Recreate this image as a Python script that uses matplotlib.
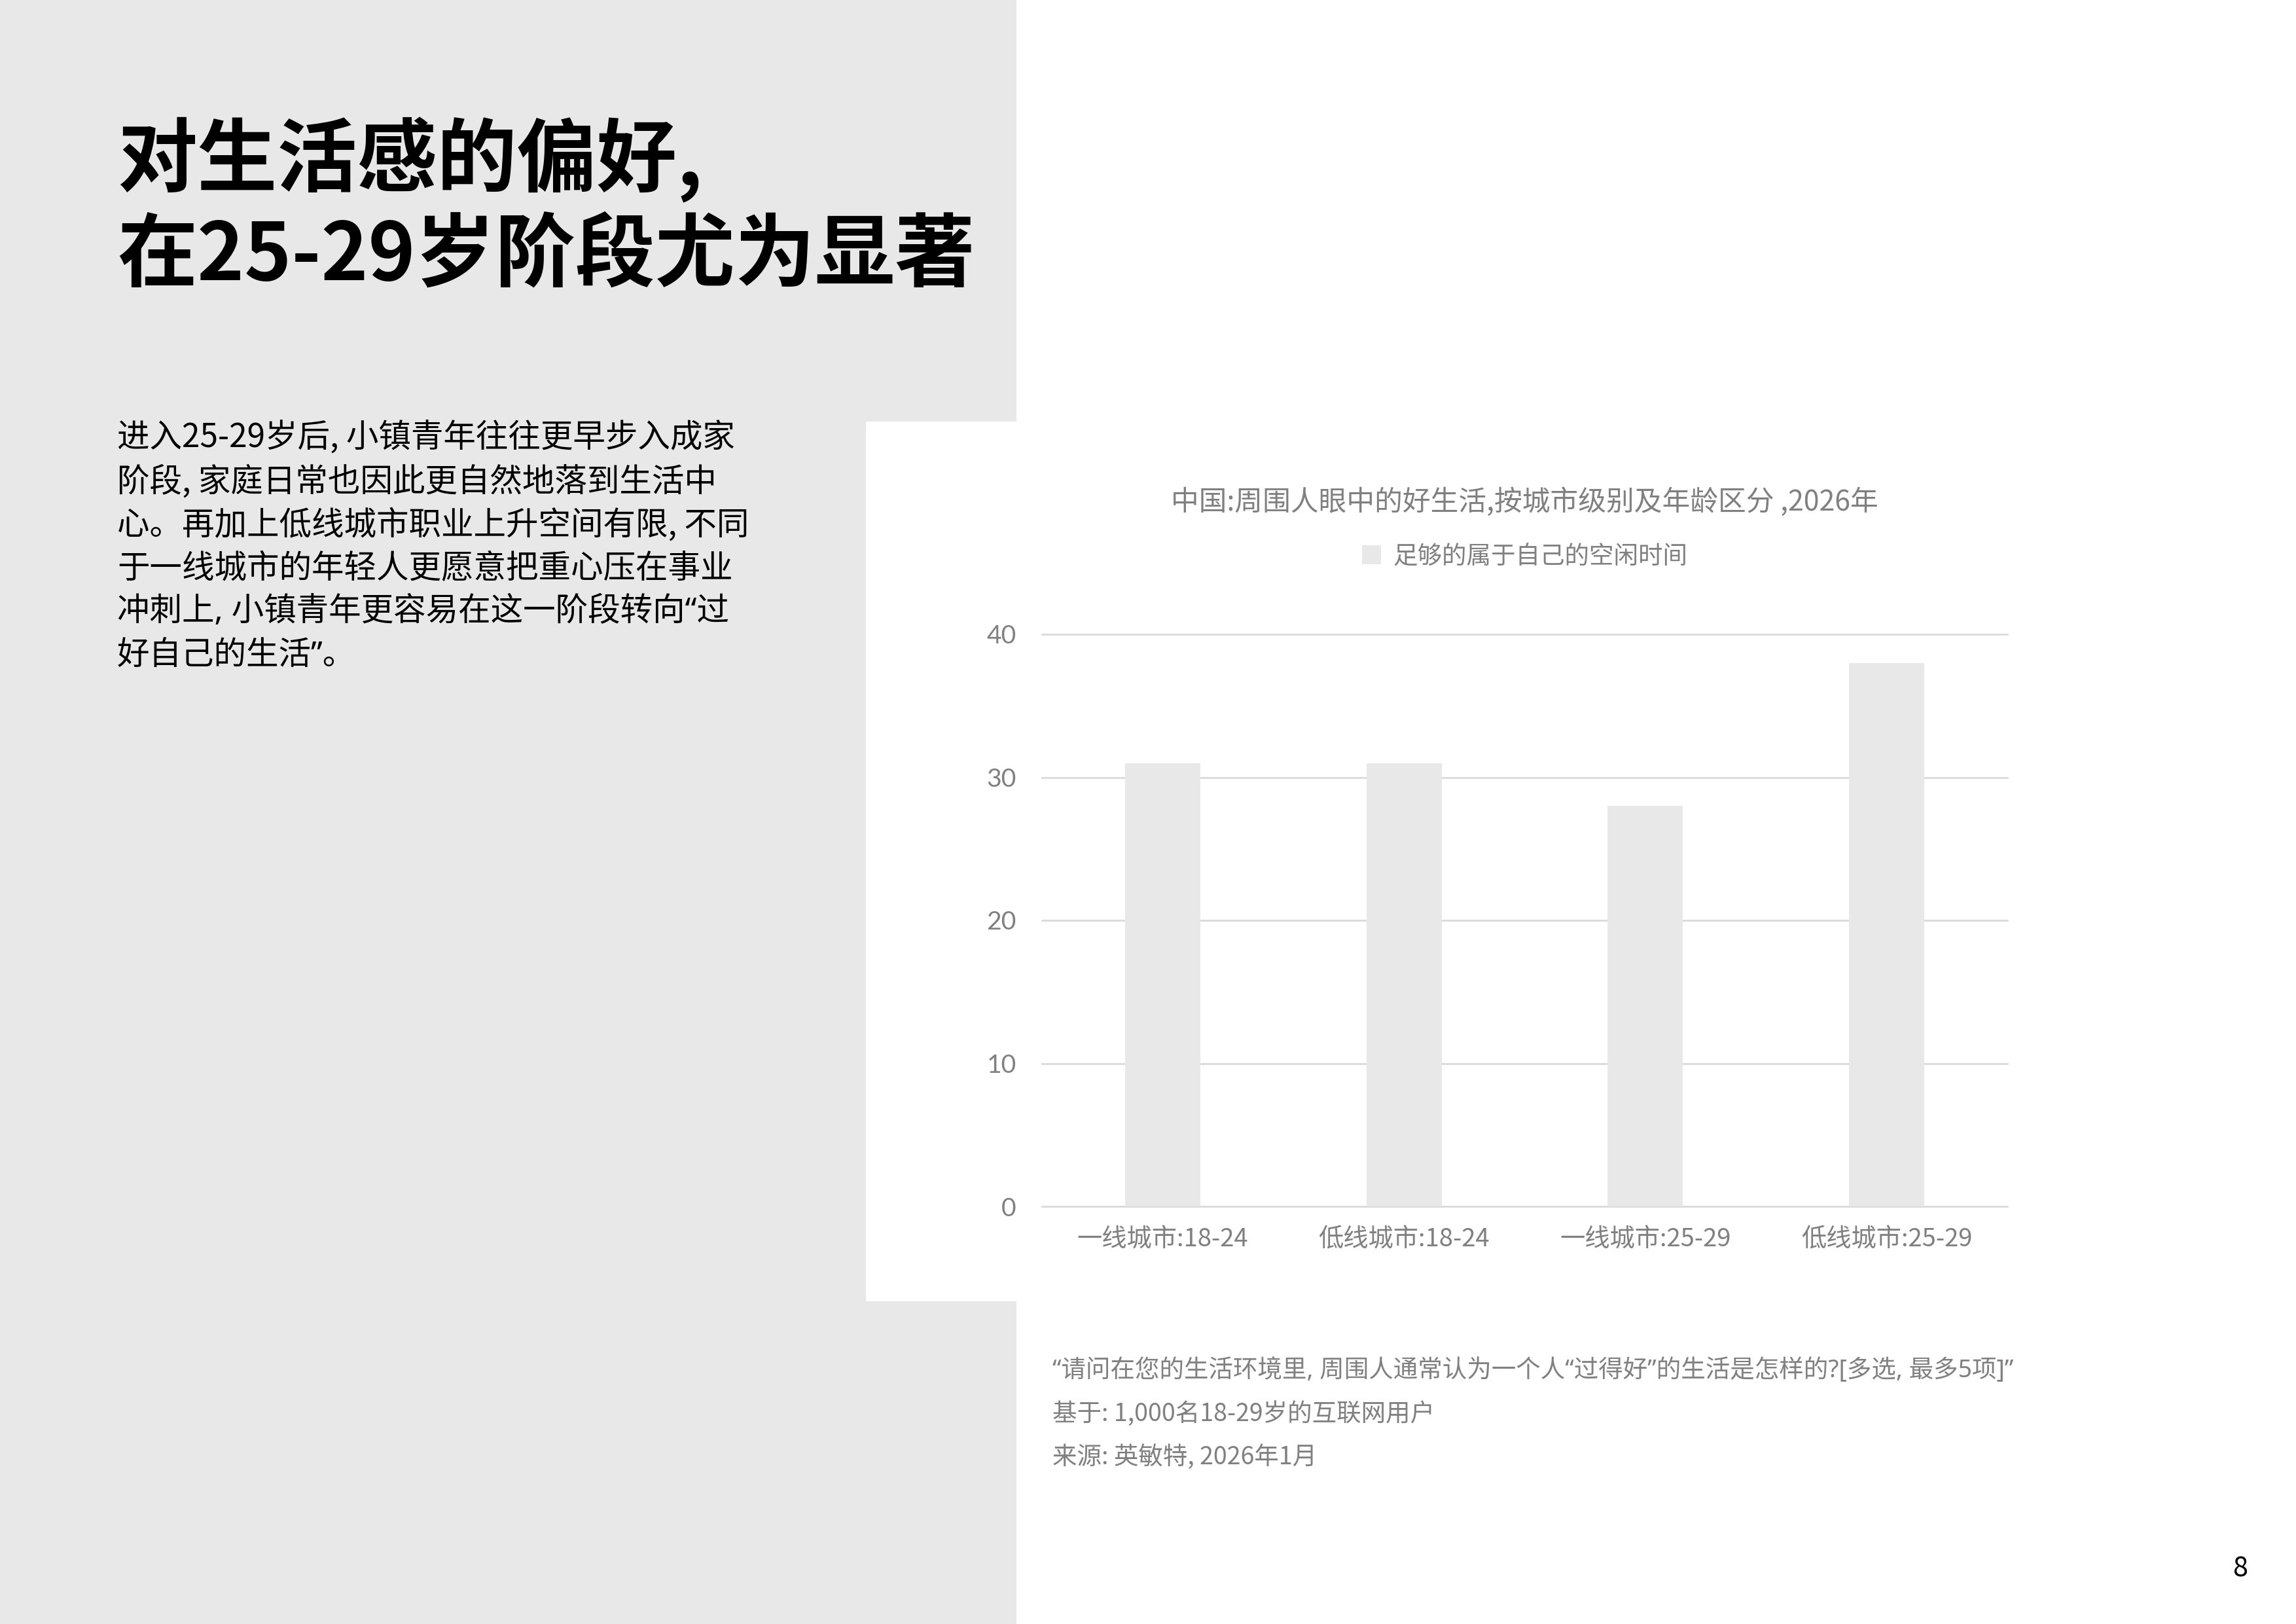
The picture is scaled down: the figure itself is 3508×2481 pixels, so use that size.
import matplotlib
matplotlib.use("Agg")
import matplotlib.pyplot as plt
from matplotlib.patches import Rectangle, Patch

plt.rcParams['font.family'] = ['Noto Sans CJK SC', 'DejaVu Sans']

# data
categories = ['一线城市:18-24', '低线城市:18-24', '一线城市:25-29', '低线城市:25-29']
values = [31, 31, 28, 38]
series_name = '足够的属于自己的空闲时间'
y_ticks = [0, 10, 20, 30, 40]

title_lines = ['对生活感的偏好,', '在25-29岁阶段尤为显著']
body_lines = [
    '进入25-29岁后, 小镇青年往往更早步入成家',
    '阶段, 家庭日常也因此更自然地落到生活中',
    '心。再加上低线城市职业上升空间有限, 不同',
    '于一线城市的年轻人更愿意把重心压在事业',
    '冲刺上, 小镇青年更容易在这一阶段转向“过',
    '好自己的生活”。',
]
chart_title = '中国:周围人眼中的好生活,按城市级别及年龄区分 ,2026年'
notes = [
    '“请问在您的生活环境里, 周围人通常认为一个人“过得好”的生活是怎样的?[多选, 最多5项]”',
    '基于: 1,000名18-29岁的互联网用户',
    '来源: 英敏特, 2026年1月',
]
page_no = '8'

W, H = 3508, 2481
fig = plt.figure(figsize=(W / 300, H / 300), dpi=300)
fig.patch.set_facecolor('white')

def fx(px):
    return px / W

def fy(py):
    return 1 - py / H

def fam(s):
    # narrow curly quotes from Noto Sans where the line has them
    if '“' in s or '”' in s:
        return ['Noto Sans', 'Noto Sans CJK SC', 'DejaVu Sans']
    return ['Noto Sans CJK SC', 'DejaVu Sans']

BAR = '#e8e8e8'
GRID = '#d9d9d9'
GREY_TXT = '#808080'

# page background panels
fig.patches.append(Rectangle((0, 0), fx(1553), 1, transform=fig.transFigure,
                             facecolor='#e8e8e8', edgecolor='none', zorder=-2))
fig.patches.append(Rectangle((fx(1323), fy(1988)), fx(500), fy(644) - fy(1988),
                             transform=fig.transFigure, facecolor='white',
                             edgecolor='none', zorder=-1))

# headline + body
for i, line in enumerate(title_lines):
    fig.text(fx(179), fy(244 + i * 148), line, fontsize=29.3, fontweight='bold',
             color='black', ha='left', va='center')
for i, line in enumerate(body_lines):
    fig.text(fx(179), fy(670 + i * 66.3), line, fontsize=11.9, family=fam(line),
             color='black', ha='left', va='center')

# chart
ax_left, ax_right = 1592, 3067
y0_px, unit_px = 1843, (1843 - 969) / 40
ytop = 40.4
ax = fig.add_axes([fx(ax_left), fy(y0_px), fx(ax_right - ax_left),
                   (ytop * unit_px) / H])
ax.set_facecolor('none')
x = range(len(categories))
ax.bar(x, values, width=0.312, color=BAR, label=series_name, zorder=2)
ax.set_xlim(-0.5, len(categories) - 0.5)
ax.set_ylim(0, ytop)
ax.set_yticks(y_ticks)
ax.set_xticks(list(x))
ax.set_xticklabels(categories, fontsize=9.2, color=GREY_TXT)
ax.set_yticklabels([str(t) for t in y_ticks], fontsize=9.4, color=GREY_TXT,
                   family=['Lato', 'DejaVu Sans'])
ax.tick_params(axis='both', length=0)
ax.tick_params(axis='y', pad=9.4)
ax.tick_params(axis='x', pad=7.6)
for s in ax.spines.values():
    s.set_visible(False)
ax.yaxis.grid(True, color=GRID, linewidth=0.65)
ax.set_axisbelow(True)
for gl in ax.get_ygridlines():
    gl.set_clip_on(False)

cx = fx((ax_left + ax_right) / 2)
fig.text(cx, fy(768), chart_title, fontsize=10.25, color=GREY_TXT,
         ha='center', va='center')
fig.legend(handles=[Patch(facecolor=BAR, edgecolor='none', label=series_name)],
           loc='center', bbox_to_anchor=(cx, fy(850)), frameon=False,
           fontsize=9, labelcolor=GREY_TXT, handlelength=0.78, handleheight=0.78,
           handletextpad=0.5, borderpad=0)

# notes
for i, line in enumerate(notes):
    fig.text(fx(1608), fy(2094 + i * 66), line, fontsize=9, family=fam(line),
             color=GREY_TXT, ha='left', va='center')

fig.text(fx(3423), fy(2397), page_no, fontsize=10, color='black',
         ha='center', va='center')

fig.savefig('out.png', dpi=300)
